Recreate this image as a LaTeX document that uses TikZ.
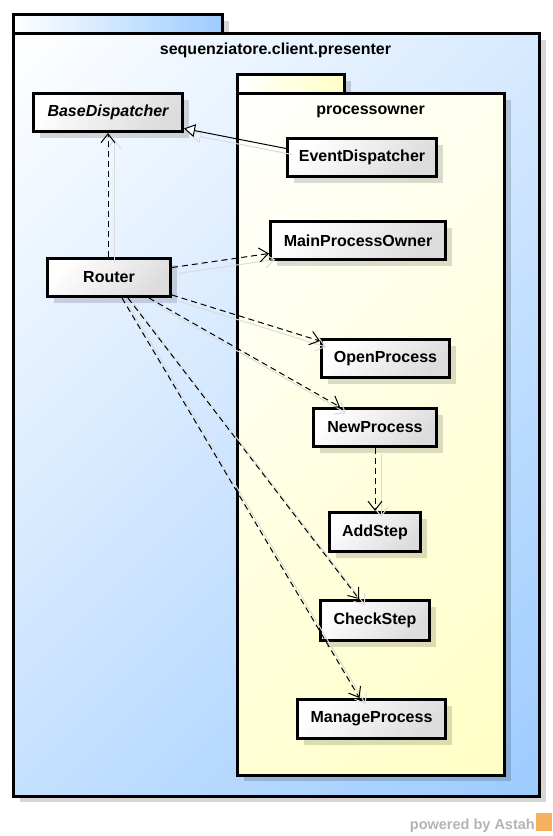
\documentclass[tikz,border=0pt]{standalone}
\usepackage{fontspec}
\setmainfont{Liberation Sans}
\usetikzlibrary{arrows.meta,shadows}
\definecolor{pkgblue}{HTML}{9CCBFF}
\definecolor{pkgyellow}{HTML}{FFFFC4}
\definecolor{clsgray}{HTML}{DCDCDC}
\definecolor{astahgray}{HTML}{B4B4B4}
\definecolor{astahorange}{HTML}{F5B060}
\newcommand\labfont{\fontsize{16}{19}\selectfont\bfseries}
\newcommand\diagfill[5]{%
  \begin{scope}
    \clip (#1,#2) rectangle (#3,#4);
    \begin{scope}[transform canvas={shift={(#1,#2)},rotate=-45}]
      \shade[left color=white, right color=#5] (0,-2000) rectangle ({((#3-#1)+(#4-#2))/sqrt(2)},2000);
    \end{scope}
  \end{scope}}
\tikzset{
  cls/.style={draw, line width=3pt, inner sep=0pt, minimum height=38pt,
    font=\labfont, top color=white, bottom color=clsgray, shading angle=45,
    drop shadow={shadow xshift=6pt, shadow yshift=-6pt, fill=black, opacity=0.14}},
  pkgshadow/.style={fill=black, opacity=0.16},
  pkgline/.style={draw, line width=3pt},
  depline/.style={line width=1pt, dash pattern=on 6pt off 4pt,
    -{Straight Barb[length=9pt,width=14pt,line width=1pt]}},
  shline/.style={line width=1pt, draw=black!14,
    -{Straight Barb[length=9pt,width=14pt,line width=1pt]},
    transform canvas={xshift=6pt,yshift=-6pt}},
  genline/.style={line width=1pt, -{Triangle[open,length=11pt,width=13pt,fill=white]}},
  genshline/.style={line width=1pt, draw=black!14,
    -{Triangle[open,length=11pt,width=13pt]},
    transform canvas={xshift=6pt,yshift=-6pt}},
  pkgtitle/.style={font=\labfont, inner sep=0pt}
}
\begin{document}
\begin{tikzpicture}[x=1pt,y=-1pt]
\useasboundingbox (0,0) rectangle (552,836);
\fill[white] (0,0) rectangle (552,836);

% outer package
\fill[pkgshadow] (19.5,20.5) rectangle (228.5,39.5);
\fill[pkgshadow] (19.5,39.5) rectangle (545.5,802);
\shade[pkgline, left color=white, right color=pkgblue] (13.5,14.5) rectangle (222.5,33.5);
\diagfill{13.5}{33.5}{539.5}{796}{pkgblue}
\draw[pkgline] (13.5,33.5) rectangle (539.5,796);
\node[pkgtitle] (outertitle) at (275.5,50) {sequenziatore.client.presenter};

% inner package
\fill[pkgshadow] (243.5,80.5) rectangle (350.5,99.5);
\fill[pkgshadow] (243.5,99.5) rectangle (510.5,781);
\shade[pkgline, left color=white, right color=pkgyellow] (237.5,74.5) rectangle (344.5,93.5);
\diagfill{237.5}{93.5}{504.5}{775}{pkgyellow}
\draw[pkgline] (237.5,93.5) rectangle (504.5,775);
\node[pkgtitle] (innertitle) at (370.5,112) {processowner};

% classes
\node[cls, minimum width=149pt, font=\labfont\itshape] (base) at (108,112.5) {BaseDispatcher};
\node[cls, minimum width=149pt] (event) at (362,157.5) {EventDispatcher};
\node[cls, minimum width=123pt] (router) at (109,277.5) {Router};
\node[cls, minimum width=175pt] (main) at (358,240.5) {MainProcessOwner};
\node[cls, minimum width=128pt] (open) at (385.5,358.5) {OpenProcess};
\node[cls, minimum width=123pt] (new) at (375,427.5) {NewProcess};
\node[cls, minimum width=91pt, minimum height=39pt] (add) at (375,532) {AddStep};
\node[cls, minimum width=109pt, minimum height=40pt] (check) at (375,620.5) {CheckStep};
\node[cls, minimum width=148pt, minimum height=39pt] (manage) at (371.5,719) {ManageProcess};

% connector endpoints
\coordinate (eS) at ([yshift=9pt]event.west);
\coordinate (bE) at ([yshift=-16pt]base.east);
\coordinate (rN) at ([xshift=-1pt]router.north);
\coordinate (bS) at (base.south);
\coordinate (rE) at ([yshift=10pt]router.east);
\coordinate (mW) at ([yshift=-13pt]main.west);
\coordinate (rSE) at ([yshift=3pt]router.south east);
\coordinate (oNW) at ([yshift=-3pt]open.north west);
\coordinate (rS1) at ([xshift=40pt]router.south);
\coordinate (nN) at ([xshift=-35pt]new.north);
\coordinate (rS2) at ([xshift=19pt]router.south);
\coordinate (cN) at ([xshift=-16pt]check.north);
\coordinate (rS3) at ([xshift=13pt]router.south);
\coordinate (mN) at ([xshift=-12pt]manage.north);

% connector shadows
\draw[genshline] (eS) -- (bE);
\draw[shline] (rN) -- (bS);
\draw[shline] (rE) -- (mW);
\draw[shline] (rSE) -- (oNW);
\draw[shline] (rS1) -- (nN);
\draw[shline] (new.south) -- (add.north);
\draw[shline] (rS2) -- (cN);
\draw[shline] (rS3) -- (mN);

% connectors
\draw[genline] (eS) -- (bE);
\draw[depline] (rN) -- (bS);
\draw[depline] (rE) -- (mW);
\draw[depline] (rSE) -- (oNW);
\draw[depline] (rS1) -- (nN);
\draw[depline] (new.south) -- (add.north);
\draw[depline] (rS2) -- (cN);
\draw[depline] (rS3) -- (mN);

% watermark
\node[anchor=base east, text=astahgray, font=\fontsize{14.5}{16}\selectfont\bfseries, inner sep=0pt] (powered) at (535,829) {powered by Astah};
\fill[astahorange] (536,813) rectangle (552,831);
\end{tikzpicture}
\end{document}
